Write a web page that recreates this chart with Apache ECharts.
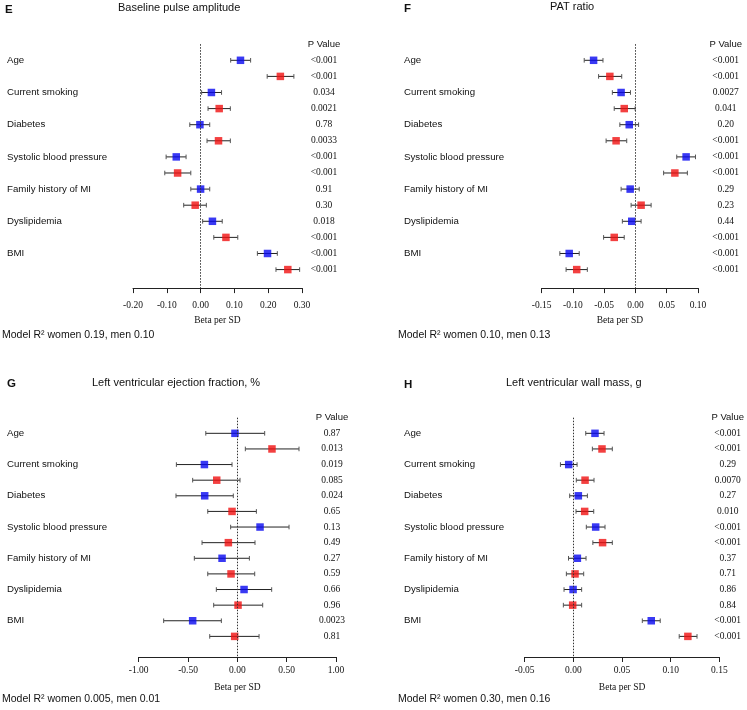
<!DOCTYPE html>
<html>
<head>
<meta charset="utf-8">
<script src="https://cdn.jsdelivr.net/npm/echarts@6/dist/echarts.min.js"></script>
<style>html,body{margin:0;padding:0;background:#fff;}#c{width:747px;height:710px;}</style>
</head>
<body>
<div id="c"></div>
<script>
const categories = ['Age','Current smoking','Diabetes','Systolic blood pressure','Family history of MI','Dyslipidemia','BMI'];

// Panel E: Baseline pulse amplitude
const E_blue   = [0.118, 0.032, -0.002, -0.072, 0.000, 0.035, 0.198];
const E_blueLo = [0.089, 0.003, -0.032, -0.102, -0.029, 0.006, 0.168];
const E_blueHi = [0.148, 0.062, 0.027, -0.043, 0.027, 0.064, 0.227];
const E_red    = [0.236, 0.055, 0.053, -0.068, -0.016, 0.075, 0.258];
const E_redLo  = [0.197, 0.022, 0.019, -0.106, -0.050, 0.039, 0.223];
const E_redHi  = [0.276, 0.088, 0.088, -0.029, 0.017, 0.110, 0.293];
const E_pBlue  = ['<0.001','0.034','0.78','<0.001','0.91','0.018','<0.001'];
const E_pRed   = ['<0.001','0.0021','0.0033','<0.001','0.30','<0.001','<0.001'];

// Panel F: PAT ratio
const F_blue   = [-0.067, -0.023, -0.010, 0.081, -0.0085, -0.006, -0.106];
const F_blueLo = [-0.082, -0.037, -0.025, 0.066, -0.023, -0.021, -0.121];
const F_blueHi = [-0.052, -0.008, 0.005, 0.096, 0.006, 0.009, -0.090];
const F_red    = [-0.041, -0.018, -0.031, 0.063, 0.009, -0.034, -0.094];
const F_redLo  = [-0.059, -0.034, -0.047, 0.045, -0.007, -0.051, -0.111];
const F_redHi  = [-0.022, -0.0005, -0.014, 0.083, 0.025, -0.018, -0.077];
const F_pBlue  = ['<0.001','0.0027','0.20','<0.001','0.29','0.44','<0.001'];
const F_pRed   = ['<0.001','0.041','<0.001','<0.001','0.23','<0.001','<0.001'];

// Panel G: Left ventricular ejection fraction, %
const G_blue   = [-0.024, -0.334, -0.331, 0.230, -0.155, 0.068, -0.453];
const G_blueLo = [-0.320, -0.618, -0.622, -0.068, -0.436, -0.213, -0.747];
const G_blueHi = [0.277, -0.054, -0.041, 0.524, 0.122, 0.348, -0.162];
const G_red    = [0.351, -0.209, -0.054, -0.091, -0.064, 0.007, -0.027];
const G_redLo  = [0.081, -0.453, -0.300, -0.358, -0.300, -0.240, -0.280];
const G_redHi  = [0.625, 0.027, 0.193, 0.179, 0.176, 0.257, 0.220];
const G_pBlue  = ['0.87','0.019','0.024','0.13','0.27','0.66','0.0023'];
const G_pRed   = ['0.013','0.085','0.65','0.49','0.59','0.96','0.81'];

// Panel H: Left ventricular wall mass, g
const H_blue   = [0.0222, -0.0048, 0.0051, 0.0229, 0.0041, -0.0003, 0.0800];
const H_blueLo = [0.0127, -0.0133, -0.0038, 0.0133, -0.0050, -0.0096, 0.0708];
const H_blueHi = [0.0315, 0.0038, 0.0144, 0.0325, 0.0130, 0.0085, 0.0892];
const H_red    = [0.0294, 0.0120, 0.0116, 0.0300, 0.0017, -0.0007, 0.1176];
const H_redLo  = [0.0195, 0.0030, 0.0027, 0.0200, -0.0072, -0.0103, 0.1087];
const H_redHi  = [0.0400, 0.0212, 0.0209, 0.0400, 0.0106, 0.0085, 0.1270];
const H_pBlue  = ['<0.001','0.29','0.27','<0.001','0.37','0.86','<0.001'];
const H_pRed   = ['<0.001','0.0070','0.010','<0.001','0.71','0.84','<0.001'];

// Axis ticks
const E_ticks = {min: -0.20, max: 0.30, interval: 0.10};
const F_ticks = {min: -0.15, max: 0.10, interval: 0.05};
const G_ticks = {min: -1.00, max: 1.00, interval: 0.50};
const H_ticks = {min: -0.05, max: 0.15, interval: 0.05};

const panelLetters = ['E','F','G','H'];
const panelTitles = ['Baseline pulse amplitude','PAT ratio','Left ventricular ejection fraction, %','Left ventricular wall mass, g'];
const modelTexts = ['Model R\u00B2 women 0.19, men 0.10','Model R\u00B2 women 0.10, men 0.13','Model R\u00B2 women 0.005, men 0.01','Model R\u00B2 women 0.30, men 0.16'];
const pHeader = 'P Value';
const xName = 'Beta per SD';

const panels = [
  {blue:E_blue, blueLo:E_blueLo, blueHi:E_blueHi, red:E_red, redLo:E_redLo, redHi:E_redHi, pB:E_pBlue, pR:E_pRed, ticks:E_ticks},
  {blue:F_blue, blueLo:F_blueLo, blueHi:F_blueHi, red:F_red, redLo:F_redLo, redHi:F_redHi, pB:F_pBlue, pR:F_pRed, ticks:F_ticks},
  {blue:G_blue, blueLo:G_blueLo, blueHi:G_blueHi, red:G_red, redLo:G_redLo, redHi:G_redHi, pB:G_pBlue, pR:G_pRed, ticks:G_ticks},
  {blue:H_blue, blueLo:H_blueLo, blueHi:H_blueHi, red:H_red, redLo:H_redLo, redHi:H_redHi, pB:H_pBlue, pR:H_pRed, ticks:H_ticks}
];

// layout (pixels)
const layout = [
  {left:133, right:445, top:44.2, height:243.9, ymax:14.15, catMargin:126, pOffset:22, lblMargin:12, nameGap:27},
  {left:541.7, right:49, top:44.2, height:243.9, ymax:14.15, catMargin:137.7, pOffset:27.7, lblMargin:12, nameGap:27},
  {left:138.7, right:411, top:417.7, height:239.3, ymax:14.32, catMargin:131.7, pOffset:-4, lblMargin:8, nameGap:25},
  {left:524.7, right:27.3, top:417.7, height:239.3, ymax:14.32, catMargin:120.7, pOffset:8.3, lblMargin:8, nameGap:25}
];

const BLUE = '#0808f0';
const RED = '#f01010';
const SANS = '"Liberation Sans", Arial, sans-serif';
const SERIF = '"Liberation Serif", "Times New Roman", serif';

const grids = [], xAxes = [], yAxes = [], series = [];

panels.forEach((p, k) => {
  const L = layout[k];
  grids.push({left:L.left, right:L.right, top:L.top, height:L.height, containLabel:false});
  xAxes.push({
    type:'value', gridIndex:k, min:p.ticks.min, max:p.ticks.max, interval:p.ticks.interval,
    axisLine:{show:true, onZero:false, lineStyle:{color:'#222', width:1}},
    axisTick:{show:true, length:5, lineStyle:{color:'#222'}},
    splitLine:{show:false},
    axisLabel:{fontFamily:SERIF, fontSize:9.5, color:'#111', margin:L.lblMargin, formatter:v=>v.toFixed(2)},
    name:xName, nameLocation:'middle', nameGap:L.nameGap,
    nameTextStyle:{fontFamily:SERIF, fontSize:9.5, color:'#111'}
  });
  // left: category labels
  yAxes.push({
    type:'value', gridIndex:k, inverse:true, min:-1, max:L.ymax, interval:1,
    axisLine:{show:false}, axisTick:{show:false}, splitLine:{show:false},
    axisLabel:{show:true, showMaxLabel:false, align:'left', margin:L.catMargin, fontFamily:SANS, fontSize:9.7, color:'#111',
      formatter:v => (Number.isInteger(v) && v >= 0 && v % 2 === 0 && v/2 < categories.length) ? categories[v/2] : ''}
  });
  // right: p values
  yAxes.push({
    type:'value', gridIndex:k, inverse:true, min:-1, max:L.ymax, interval:1, position:'right', offset:L.pOffset,
    axisLine:{show:false}, axisTick:{show:false}, splitLine:{show:false},
    axisLabel:{show:true, showMaxLabel:false, align:'center', margin:0,
      formatter:v => {
        if (v === -1) return '{h|' + pHeader + '}';
        if (!Number.isInteger(v) || v < 0 || v > 13) return '';
        const i = Math.floor(v/2);
        return '{p|' + (v % 2 === 0 ? p.pB[i] : p.pR[i]) + '}';
      },
      rich:{h:{fontFamily:SANS, fontSize:9.5, color:'#111'}, p:{fontFamily:SERIF, fontSize:9.5, color:'#111'}}
    }
  });
  const yi = 2*k;
  const mkErr = (lo, hi, off) => lo.map((v, i) => [v, hi[i], 2*i + off]);
  const errRender = (params, api) => {
    const a = api.coord([api.value(0), api.value(2)]);
    const b = api.coord([api.value(1), api.value(2)]);
    const h = 2.3;
    const st = {stroke:'#222', lineWidth:1};
    return {type:'group', children:[
      {type:'line', shape:{x1:a[0], y1:a[1], x2:b[0], y2:b[1]}, style:st},
      {type:'line', shape:{x1:a[0], y1:a[1]-h, x2:a[0], y2:a[1]+h}, style:{stroke:'#555', lineWidth:1}},
      {type:'line', shape:{x1:b[0], y1:b[1]-h, x2:b[0], y2:b[1]+h}, style:{stroke:'#555', lineWidth:1}}
    ]};
  };
  series.push({type:'custom', xAxisIndex:k, yAxisIndex:yi, renderItem:errRender, encode:{x:[0,1], y:2}, data:mkErr(p.blueLo, p.blueHi, 0), z:2, silent:true});
  series.push({type:'custom', xAxisIndex:k, yAxisIndex:yi, renderItem:errRender, encode:{x:[0,1], y:2}, data:mkErr(p.redLo, p.redHi, 1), z:2, silent:true});
  series.push({type:'scatter', name:'Women', xAxisIndex:k, yAxisIndex:yi, symbol:'rect', symbolSize:7.5, itemStyle:{color:BLUE},
    data:p.blue.map((v,i)=>[v, 2*i]), z:3, silent:true,
    markLine:{silent:true, symbol:'none', label:{show:false}, lineStyle:{type:[1.5,1.5], color:'#333', width:1}, data:[{xAxis:0}]}});
  series.push({type:'scatter', name:'Men', xAxisIndex:k, yAxisIndex:yi, symbol:'rect', symbolSize:7.5, itemStyle:{color:RED},
    data:p.red.map((v,i)=>[v, 2*i+1]), z:3, silent:true});
});

const titles = [];
const letterPos = [[5,4],[404,3],[7,378],[404,379]];
const titlePos = [[118,2],[550,1],[92,377],[506,377]];
const modelPos = [[2,330],[398,330],[2,694],[398,694]];
for (let k = 0; k < 4; k++) {
  titles.push({text:panelLetters[k], left:letterPos[k][0], top:letterPos[k][1], padding:0, textStyle:{fontFamily:SANS, fontSize:11.5, fontWeight:'bold', color:'#111'}});
  titles.push({text:panelTitles[k], left:titlePos[k][0], top:titlePos[k][1], padding:0, textStyle:{fontFamily:SANS, fontSize:11, fontWeight:'normal', color:'#111'}});
  titles.push({text:modelTexts[k], left:modelPos[k][0], top:modelPos[k][1], padding:0, textStyle:{fontFamily:SANS, fontSize:10.5, fontWeight:'normal', color:'#111'}});
}

const chart = echarts.init(document.getElementById('c'), null, {renderer:'canvas'});
chart.setOption({
  animation:false,
  backgroundColor:'#fff',
  title:titles,
  grid:grids,
  xAxis:xAxes,
  yAxis:yAxes,
  series:series
});
</script>
</body>
</html>
